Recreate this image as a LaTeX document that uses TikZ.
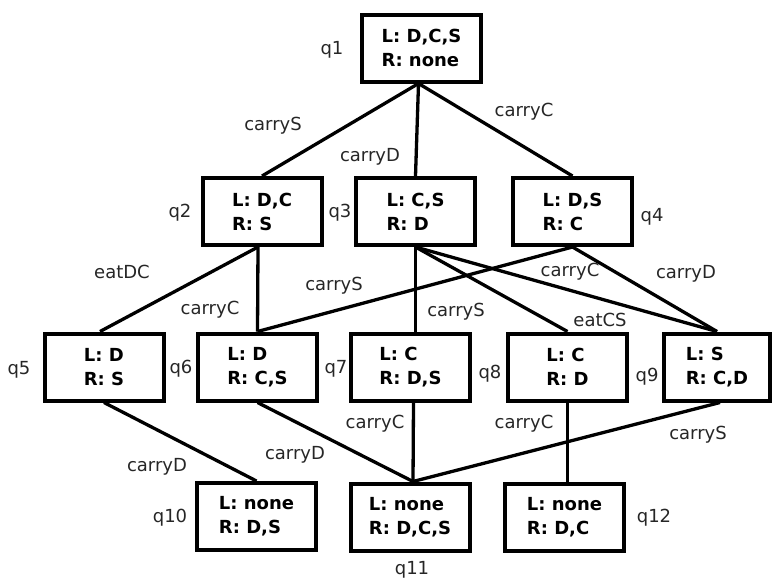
\documentclass[tikz,border=0pt]{standalone}
\usepackage{fontspec}
\setmainfont{DejaVu Sans}
\begin{document}
\begin{tikzpicture}[x=1pt,y=-1pt,
  stbox/.style={draw, line width=4pt, minimum width=119pt, minimum height=67pt,
    inner sep=0pt, align=left, font=\fontsize{18}{24}\selectfont\bfseries},
  tr/.style={line width=3.3pt},
  lbl/.style={font=\fontsize{18}{20}\selectfont, inner sep=0pt, text=black!85}]
\useasboundingbox (0,0) rectangle (775,582);

% states: left and right bank contents
\node[stbox] (q1)  at (421.5,48)  {L: D,C,S\\R: none};
\node[stbox] (q2)  at (262,211.5) {L: D,C\\R: S};
\node[stbox] (q3)  at (415.5,211.5) {L: C,S\\R: D};
\node[stbox] (q4)  at (572.5,211.5) {L: D,S\\R: C};
\node[stbox] (q5)  at (104,367)   {L: D\\R: S};
\node[stbox] (q6)  at (257.5,367) {L: D\\R: C,S};
\node[stbox] (q7)  at (410.5,367) {L: C\\R: D,S};
\node[stbox] (q8)  at (567.5,367) {L: C\\R: D};
\node[stbox, minimum width=106pt] (q9) at (717,367) {L: S\\R: C,D};
\node[stbox] (q10) at (256.5,516.5) {L: none\\R: D,S};
\node[stbox] (q11) at (410,517)   {L: none\\R: D,C,S};
\node[stbox] (q12) at (564.5,517) {L: none\\R: D,C};

% state names
\node[lbl] (n1)  at (332,50)  {q1};
\node[lbl] (n2)  at (180,213) {q2};
\node[lbl] (n3)  at (340,213) {q3};
\node[lbl] (n4)  at (652,217) {q4};
\node[lbl] (n5)  at (19,370)  {q5};
\node[lbl] (n6)  at (181,369) {q6};
\node[lbl] (n7)  at (336,369) {q7};
\node[lbl] (n8)  at (490,374) {q8};
\node[lbl] (n9)  at (647,377) {q9};
\node[lbl] (n10) at (170,518) {q10};
\node[lbl] (n11) at (412,570) {q11};
\node[lbl] (n12) at (654,518) {q12};

% transitions
\draw[tr] ([xshift=-3pt]q1.south) -- (q2.north);
\draw[tr] ([xshift=-3pt]q1.south) -- (q3.north);
\draw[tr] ([xshift=-3pt]q1.south) -- (q4.north);
\draw[tr] ([xshift=-4pt]q2.south) -- ([xshift=-4pt]q5.north);
\draw[tr] ([xshift=-4pt]q2.south) -- (q6.north);
\draw[tr] (q4.south) -- (q6.north);
\draw[tr] (q3.south) -- (q3.south |- q7.north);
\draw[tr] (q3.south) -- (q8.north);
\draw[tr] (q3.south) -- (q9.north);
\draw[tr] (q4.south) -- (q9.north);
\draw[tr] (q5.south) -- (q10.north);
\draw[tr] (q6.south) -- ([xshift=3pt]q11.north);
\draw[tr] ([xshift=3pt]q7.south) -- ([xshift=3pt]q11.north);
\draw[tr] ([xshift=3pt]q9.south) -- ([xshift=3pt]q11.north);
\draw[tr] (q8.south) -- (q8.south |- q12.north);

% transition labels
\node[lbl] (a1)  at (273,126) {carryS};
\node[lbl] (a2)  at (370,157) {carryD};
\node[lbl] (a3)  at (524,112) {carryC};
\node[lbl] (a4)  at (122,272) {eatDC};
\node[lbl] (a5)  at (210,310) {carryC};
\node[lbl] (a6)  at (334,286) {carryS};
\node[lbl] (a7)  at (456,312) {carryS};
\node[lbl] (a8)  at (570,272) {carryC};
\node[lbl] (a9)  at (686,274) {carryD};
\node[lbl] (a10) at (600,320) {eatCS};
\node[lbl] (a11) at (157,467) {carryD};
\node[lbl] (a12) at (295,455) {carryD};
\node[lbl] (a13) at (375,424) {carryC};
\node[lbl] (a14) at (524,424) {carryC};
\node[lbl] (a15) at (698,435) {carryS};
\end{tikzpicture}
\end{document}
